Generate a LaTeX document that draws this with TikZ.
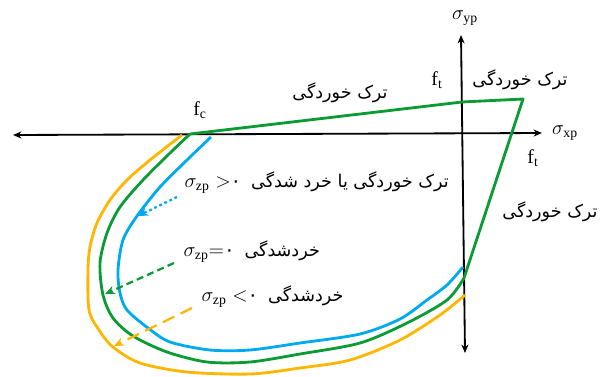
\documentclass[tikz,border=0pt]{standalone}
\usepackage{fontspec}
\setmainfont{Liberation Serif}
\newfontfamily\persfont[Script=Arabic]{DejaVu Sans}
\TeXXeTstate=1
\usetikzlibrary{arrows.meta}
\definecolor{grn}{RGB}{10,155,50}
\definecolor{blu}{RGB}{0,170,240}
\definecolor{org}{RGB}{255,182,0}

\begin{document}
\begin{tikzpicture}[x=0.025cm,y=-0.025cm,
  axis/.style={black,line width=1.3pt,{Stealth[length=6pt,width=5pt]}-{Stealth[length=6pt,width=5pt]}},
  env/.style={line width=2pt,line join=round},
  pl/.style={font=\fontsize{12.5}{15}\selectfont\persfont,inner sep=1pt},
  ml/.style={font=\fontsize{14}{16}\selectfont,inner sep=1pt},
  lbl/.style={font=\fontsize{14}{16}\selectfont,inner sep=1pt,anchor=west},
  ptr/.style={line width=1.6pt,-{Stealth[length=7pt,width=6pt]}}
]
\useasboundingbox (0,0) rectangle (603,376);
\def\fa{\persfont\fontsize{12.5}{15}\selectfont}
% axes
\coordinate (xl) at (13,135);  \coordinate (xr) at (542,133);
\coordinate (yt) at (461,35);  \coordinate (yb) at (465,353);
\draw[axis] (xl) -- (xr);
\draw[axis] (yt) -- (yb);
\node[ml] (sxp) at (565,133) {$\sigma_{\mathrm{xp}}$};
\node[ml] (syp) at (465,18)  {$\sigma_{\mathrm{yp}}$};
% green envelope (sigma_zp = 0)
\draw[env,grn] (190,134) -- (462,102) -- (523,99) -- (464,278);
\draw[env,grn] plot[smooth,tension=0.5] coordinates {(464,278) (447,300) (407,323) (360,343)
  (300,354) (250,362) (207,362) (167,352) (133,336) (113,318) (103,295) (100,263)
  (107,233) (120,207) (143,180) (170,153) (190,134)};
% blue envelope (sigma_zp > 0)
\draw[env,blu] plot[smooth,tension=0.5] coordinates {(463,267) (447,285) (427,300) (400,319)
  (360,334) (300,343) (250,350) (210,350) (170,342) (148,328) (127,310) (120,293)
  (118,270) (123,240) (137,216) (160,187) (187,160) (211,137)};
% orange envelope (sigma_zp < 0)
\draw[env,org] plot[smooth,tension=0.5] coordinates {(465,295) (440,315) (400,340) (350,360)
  (300,368) (250,374) (187,372) (140,363) (113,347) (99,330) (89,310) (88,270)
  (90,247) (97,223) (110,200) (127,180) (150,160) (182,135)};
% strengths
\node[ml] (fc)  at (200,110) {$\mathrm{f}_{\mathrm{c}}$};
\node[ml] (ft1) at (437,80)  {$\mathrm{f}_{\mathrm{t}}$};
\node[ml] (ft2) at (533,158) {$\mathrm{f}_{\mathrm{t}}$};
% cracking labels
\node[pl] (cr1) at (340,93)  {\beginR ترک خوردگی\endR};
\node[pl] (cr2) at (520,80)  {\beginR ترک خوردگی\endR};
\node[pl] (cr3) at (550,212) {\beginR ترک خوردگی\endR};
% curve labels
\node[lbl] (lb) at (183,183) {$\sigma_{\mathrm{zp}}>${\persfont ۰}\enspace{\fa\beginR ترک خوردگی یا خرد شدگی\endR}};
\node[lbl] (lg) at (182,252) {$\sigma_{\mathrm{zp}}{=}${\persfont ۰}\enspace{\fa\beginR خردشدگی\endR}};
\node[lbl] (lo) at (200,297) {$\sigma_{\mathrm{zp}}<${\persfont ۰}\enspace{\fa\beginR خردشدگی\endR}};
% pointers
\coordinate (bs) at (177,197); \coordinate (be) at (138,216);
\coordinate (gs) at (174,263); \coordinate (ge) at (105,294);
\coordinate (os) at (192,308); \coordinate (oe) at (114,346);
\draw[ptr,blu,dash pattern=on 2pt off 2pt] (bs) -- (be);
\draw[ptr,grn,dash pattern=on 5pt off 3pt] (gs) -- (ge);
\draw[ptr,org,dash pattern=on 9pt off 5pt] (os) -- (oe);
\end{tikzpicture}
\end{document}
